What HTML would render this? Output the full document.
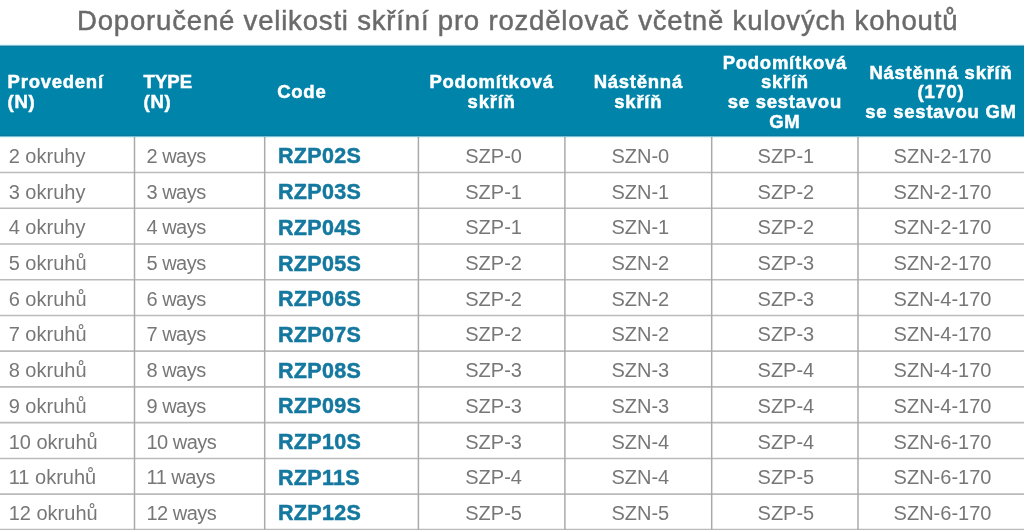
<!DOCTYPE html>
<html><head><meta charset="utf-8"><style>
*{margin:0;padding:0;box-sizing:border-box}
html,body{width:1024px;height:530px;overflow:hidden;background:#fff;position:relative}
body{font-family:"Liberation Sans",sans-serif}
.a{position:absolute;white-space:nowrap;line-height:1}
#title{left:77px;top:7.0px;color:#6a6a6a;font-size:27.6px;letter-spacing:0.78px;-webkit-text-stroke:0.45px #6a6a6a}
#hdr{position:absolute;left:0;top:44px;width:1024px;height:94px;background:linear-gradient(to bottom,#e2f7fb 0,#e2f7fb 1px,#7dbdd1 1px,#7dbdd1 2px,#087a9d 2px,#087a9d 3px,#0084a9 3px,#0084a9 91px,#087a9d 91px,#087a9d 92px,#7dbdd1 92px,#7dbdd1 93px,#e2f7fb 93px)}
.b{color:#777777;font-size:20px}
.c{color:#14789f;font-size:21.5px;font-weight:bold;letter-spacing:0.3px;-webkit-text-stroke:0.5px #14789f}
.th{color:#fff;font-size:18.5px;font-weight:bold;letter-spacing:0.75px;line-height:19.6px;-webkit-text-stroke:0.5px #fff}
.grid{position:absolute;left:0;top:0;mix-blend-mode:multiply}
.ctr{transform:translateX(-50%);text-align:center}
</style></head>
<body>
<div id="hdr"></div>
<div id="title" class="a">Doporučené velikosti skříní pro rozdělovač včetně kulových kohoutů</div>
<svg class="grid" width="1024" height="530" viewBox="0 0 1024 530"><line x1="0" x2="1024" y1="172.5" y2="172.5" stroke="#bababa" stroke-width="1.6"/><line x1="0" x2="1024" y1="208.3" y2="208.3" stroke="#bababa" stroke-width="1.6"/><line x1="0" x2="1024" y1="244.0" y2="244.0" stroke="#bababa" stroke-width="1.6"/><line x1="0" x2="1024" y1="279.8" y2="279.8" stroke="#bababa" stroke-width="1.6"/><line x1="0" x2="1024" y1="315.5" y2="315.5" stroke="#bababa" stroke-width="1.6"/><line x1="0" x2="1024" y1="351.1" y2="351.1" stroke="#bababa" stroke-width="1.6"/><line x1="0" x2="1024" y1="386.9" y2="386.9" stroke="#bababa" stroke-width="1.6"/><line x1="0" x2="1024" y1="422.6" y2="422.6" stroke="#bababa" stroke-width="1.6"/><line x1="0" x2="1024" y1="458.5" y2="458.5" stroke="#bababa" stroke-width="1.6"/><line x1="0" x2="1024" y1="494.1" y2="494.1" stroke="#bababa" stroke-width="1.6"/><line x1="0" x2="1024" y1="529.6" y2="529.6" stroke="#bababa" stroke-width="1.6"/><line x1="134.5" x2="134.5" y1="137" y2="530" stroke="#aaaaaa" stroke-width="1.5"/><line x1="264.7" x2="264.7" y1="137" y2="530" stroke="#aaaaaa" stroke-width="1.5"/><line x1="418.4" x2="418.4" y1="137" y2="530" stroke="#aaaaaa" stroke-width="1.5"/><line x1="564.9" x2="564.9" y1="137" y2="530" stroke="#aaaaaa" stroke-width="1.5"/><line x1="711.7" x2="711.7" y1="137" y2="530" stroke="#aaaaaa" stroke-width="1.5"/><line x1="858.0" x2="858.0" y1="137" y2="530" stroke="#aaaaaa" stroke-width="1.5"/></svg>
<div class="a b" style="left:8.7px;top:145.9px">2 okruhy</div>
<div class="a b" style="letter-spacing:-0.5px;left:146.5px;top:145.9px">2 ways</div>
<div class="a c" style="left:278.0px;top:146.4px">RZP02S</div>
<div class="a b ctr" style="left:493.6px;top:145.9px">SZP-0</div>
<div class="a b ctr" style="left:640.3px;top:145.9px">SZN-0</div>
<div class="a b ctr" style="left:785.9px;top:145.9px">SZP-1</div>
<div class="a b ctr" style="left:942.5px;top:145.9px">SZN-2-170</div>
<div class="a b" style="left:8.7px;top:181.6px">3 okruhy</div>
<div class="a b" style="letter-spacing:-0.5px;left:146.5px;top:181.6px">3 ways</div>
<div class="a c" style="left:278.0px;top:182.1px">RZP03S</div>
<div class="a b ctr" style="left:493.6px;top:181.6px">SZP-1</div>
<div class="a b ctr" style="left:640.3px;top:181.6px">SZN-1</div>
<div class="a b ctr" style="left:785.9px;top:181.6px">SZP-2</div>
<div class="a b ctr" style="left:942.5px;top:181.6px">SZN-2-170</div>
<div class="a b" style="left:8.7px;top:217.3px">4 okruhy</div>
<div class="a b" style="letter-spacing:-0.5px;left:146.5px;top:217.3px">4 ways</div>
<div class="a c" style="left:278.0px;top:217.8px">RZP04S</div>
<div class="a b ctr" style="left:493.6px;top:217.3px">SZP-1</div>
<div class="a b ctr" style="left:640.3px;top:217.3px">SZN-1</div>
<div class="a b ctr" style="left:785.9px;top:217.3px">SZP-2</div>
<div class="a b ctr" style="left:942.5px;top:217.3px">SZN-2-170</div>
<div class="a b" style="left:8.7px;top:253.0px">5 okruhů</div>
<div class="a b" style="letter-spacing:-0.5px;left:146.5px;top:253.0px">5 ways</div>
<div class="a c" style="left:278.0px;top:253.5px">RZP05S</div>
<div class="a b ctr" style="left:493.6px;top:253.0px">SZP-2</div>
<div class="a b ctr" style="left:640.3px;top:253.0px">SZN-2</div>
<div class="a b ctr" style="left:785.9px;top:253.0px">SZP-3</div>
<div class="a b ctr" style="left:942.5px;top:253.0px">SZN-2-170</div>
<div class="a b" style="left:8.7px;top:288.7px">6 okruhů</div>
<div class="a b" style="letter-spacing:-0.5px;left:146.5px;top:288.7px">6 ways</div>
<div class="a c" style="left:278.0px;top:289.2px">RZP06S</div>
<div class="a b ctr" style="left:493.6px;top:288.7px">SZP-2</div>
<div class="a b ctr" style="left:640.3px;top:288.7px">SZN-2</div>
<div class="a b ctr" style="left:785.9px;top:288.7px">SZP-3</div>
<div class="a b ctr" style="left:942.5px;top:288.7px">SZN-4-170</div>
<div class="a b" style="left:8.7px;top:324.4px">7 okruhů</div>
<div class="a b" style="letter-spacing:-0.5px;left:146.5px;top:324.4px">7 ways</div>
<div class="a c" style="left:278.0px;top:324.9px">RZP07S</div>
<div class="a b ctr" style="left:493.6px;top:324.4px">SZP-2</div>
<div class="a b ctr" style="left:640.3px;top:324.4px">SZN-2</div>
<div class="a b ctr" style="left:785.9px;top:324.4px">SZP-3</div>
<div class="a b ctr" style="left:942.5px;top:324.4px">SZN-4-170</div>
<div class="a b" style="left:8.7px;top:360.1px">8 okruhů</div>
<div class="a b" style="letter-spacing:-0.5px;left:146.5px;top:360.1px">8 ways</div>
<div class="a c" style="left:278.0px;top:360.6px">RZP08S</div>
<div class="a b ctr" style="left:493.6px;top:360.1px">SZP-3</div>
<div class="a b ctr" style="left:640.3px;top:360.1px">SZN-3</div>
<div class="a b ctr" style="left:785.9px;top:360.1px">SZP-4</div>
<div class="a b ctr" style="left:942.5px;top:360.1px">SZN-4-170</div>
<div class="a b" style="left:8.7px;top:395.8px">9 okruhů</div>
<div class="a b" style="letter-spacing:-0.5px;left:146.5px;top:395.8px">9 ways</div>
<div class="a c" style="left:278.0px;top:396.3px">RZP09S</div>
<div class="a b ctr" style="left:493.6px;top:395.8px">SZP-3</div>
<div class="a b ctr" style="left:640.3px;top:395.8px">SZN-3</div>
<div class="a b ctr" style="left:785.9px;top:395.8px">SZP-4</div>
<div class="a b ctr" style="left:942.5px;top:395.8px">SZN-4-170</div>
<div class="a b" style="left:8.7px;top:431.5px">10 okruhů</div>
<div class="a b" style="letter-spacing:-0.5px;left:146.5px;top:431.5px">10 ways</div>
<div class="a c" style="left:278.0px;top:432.0px">RZP10S</div>
<div class="a b ctr" style="left:493.6px;top:431.5px">SZP-3</div>
<div class="a b ctr" style="left:640.3px;top:431.5px">SZN-4</div>
<div class="a b ctr" style="left:785.9px;top:431.5px">SZP-4</div>
<div class="a b ctr" style="left:942.5px;top:431.5px">SZN-6-170</div>
<div class="a b" style="left:8.7px;top:467.2px">11 okruhů</div>
<div class="a b" style="letter-spacing:-0.5px;left:146.5px;top:467.2px">11 ways</div>
<div class="a c" style="left:278.0px;top:467.7px">RZP11S</div>
<div class="a b ctr" style="left:493.6px;top:467.2px">SZP-4</div>
<div class="a b ctr" style="left:640.3px;top:467.2px">SZN-4</div>
<div class="a b ctr" style="left:785.9px;top:467.2px">SZP-5</div>
<div class="a b ctr" style="left:942.5px;top:467.2px">SZN-6-170</div>
<div class="a b" style="left:8.7px;top:502.9px">12 okruhů</div>
<div class="a b" style="letter-spacing:-0.5px;left:146.5px;top:502.9px">12 ways</div>
<div class="a c" style="left:278.0px;top:503.4px">RZP12S</div>
<div class="a b ctr" style="left:493.6px;top:502.9px">SZP-5</div>
<div class="a b ctr" style="left:640.3px;top:502.9px">SZN-5</div>
<div class="a b ctr" style="left:785.9px;top:502.9px">SZP-5</div>
<div class="a b ctr" style="left:942.5px;top:502.9px">SZN-6-170</div>
<div class="a th" style="left:7.6px;top:72.4px">Provedení<br>(N)</div>
<div class="a th" style="left:143.5px;top:72.4px"><span style="letter-spacing:0.1px">TYPE</span><br>(N)</div>
<div class="a th" style="left:277.2px;top:82.2px">Code</div>
<div class="a th ctr" style="left:491.6px;top:72.4px">Podomítková<br>skříň</div>
<div class="a th ctr" style="left:638.3px;top:72.4px">Nástěnná<br>skříň</div>
<div class="a th ctr" style="left:784.9px;top:52.8px">Podomítková<br>skříň<br>se sestavou<br>GM</div>
<div class="a th ctr" style="left:941.0px;top:62.6px">Nástěnná skříň<br>(170)<br>se sestavou GM</div>
</body></html>
